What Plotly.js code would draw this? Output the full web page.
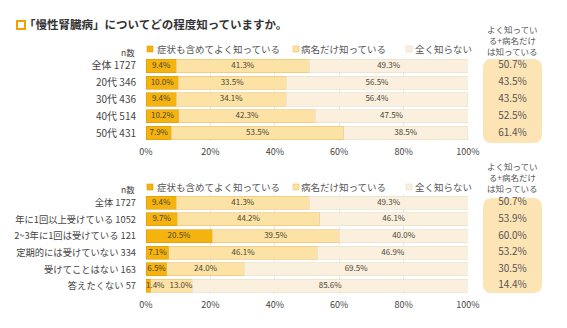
<!DOCTYPE html>
<html><head><meta charset="utf-8">
<script src="https://cdn.plot.ly/plotly-3.0.1.min.js"></script>
<style>html,body{margin:0;padding:0;background:#fff}#c{width:567px;height:328px}</style>
</head><body><div id="c"></div>
<script>
// ---- data ----
const seriesNames = ["症状も含めてよく知っている", "病名だけ知っている", "全く知らない"];
const sumHeader = "よく知ってい<br>る+病名だけ<br>は知っている";

const topGroups = ["全体", "20代", "30代", "40代", "50代"];
const topN = [1727, 346, 436, 514, 431];
const topKnowWell = [9.4, 10.0, 9.4, 10.2, 7.9];
const topNameOnly = [41.3, 33.5, 34.1, 42.3, 53.5];
const topUnknown = [49.3, 56.5, 56.4, 47.5, 38.5];
const topSum = [50.7, 43.5, 43.5, 52.5, 61.4];

const botGroups = ["全体", "年に1回以上受けている", "2~3年に1回は受けている", "定期的には受けていない", "受けてことはない", "答えたくない"];
const botN = [1727, 1052, 121, 334, 163, 57];
const botKnowWell = [9.4, 9.7, 20.5, 7.1, 6.5, 1.4];
const botNameOnly = [41.3, 44.2, 39.5, 46.1, 24.0, 13.0];
const botUnknown = [49.3, 46.1, 40.0, 46.9, 69.5, 85.6];
const botSum = [50.7, 53.9, 60.0, 53.2, 30.5, 14.4];

const xTicks = [0, 20, 40, 60, 80, 100];

// ---- styling ----
const colors = ["#F5B30F", "#FCE2A4", "#FBF0DE"];
const lineColors = ["#E09A00", "#E9C26A", "#E6DCC8"];
const txtColor = "#4a4636";
const FONT = "Noto Sans CJK JP, sans-serif";
const W = 567, H = 328;
const px = v => v / W, py = v => (H - v) / H;

function cats(groups, n) { return groups.map((g, i) => g + " " + n[i]); }
const topCats = cats(topGroups, topN);
const botCats = cats(botGroups, botN);

function barTraces(yc, vals, xa, ya) {
  const out = [];
  const start = yc.map(() => 0);
  let prevNarrow = yc.map(() => false);
  vals.forEach((v, k) => {
    out.push({
      type: "bar", orientation: "h", x: v, y: yc, xaxis: xa, yaxis: ya,
      name: seriesNames[k], showlegend: false,
      marker: { color: colors[k], line: { color: lineColors[k], width: 0.6 } },
      hoverinfo: "x+y+name"
    });
    // narrow segments: label starts at the segment's left edge;
    // the following label is then set against its segment's right end
    const narrow = v.map(d => d < 4);
    const xs = v.map((d, i) => narrow[i] ? start[i] : (prevNarrow[i] ? start[i] + d : start[i] + d / 2));
    const pos = v.map((d, i) => narrow[i] ? "middle right" : (prevNarrow[i] ? "middle left" : "middle center"));
    out.push({
      type: "scatter", mode: "text", x: xs, y: yc, xaxis: xa, yaxis: ya,
      text: v.map(d => d.toFixed(1) + "%"), textposition: pos,
      textfont: { size: 8, color: txtColor, family: FONT }, showlegend: false, hoverinfo: "skip",
      cliponaxis: false
    });
    v.forEach((d, i) => { start[i] += d; });
    prevNarrow = narrow;
  });
  return out;
}
function sumTrace(yc, s, xa, ya) {
  return {
    type: "scatter", mode: "text", x: yc.map(() => 0.5), y: yc, xaxis: xa, yaxis: ya,
    text: s.map(d => d.toFixed(1) + "%"), textposition: "middle center",
    textfont: { size: 10, color: "#555", family: FONT }, showlegend: false, hoverinfo: "skip"
  };
}

const data = [
  ...barTraces(topCats, [topKnowWell, topNameOnly, topUnknown], "x", "y"),
  ...barTraces(botCats, [botKnowWell, botNameOnly, botUnknown], "x2", "y2"),
  sumTrace(topCats, topSum, "x3", "y"),
  sumTrace(botCats, botSum, "x4", "y2")
];

const xCommon = {
  range: [0, 100], tickvals: xTicks, ticktext: xTicks.map(t => t + "%"),
  showgrid: true, gridcolor: "#e8e8e8", gridwidth: 1, zeroline: false, showline: false,
  ticks: "", tickfont: { size: 9, color: "#444", family: FONT }, fixedrange: true,
  domain: [px(146), px(468)], ticklabelstandoff: 4
};
const yCommon = {
  type: "category", autorange: "reversed", showgrid: false, zeroline: false, showline: false,
  ticks: "", ticklabelstandoff: 9
};
const boxX = { domain: [px(483), px(542)], range: [0, 1], visible: false, fixedrange: true };

function roundRect(x0, y0, x1, y1, r) {
  const rx = r / W, ry = r / H;
  return `M ${x0 + rx} ${y0} L ${x1 - rx} ${y0} Q ${x1} ${y0} ${x1} ${y0 + ry} L ${x1} ${y1 - ry} Q ${x1} ${y1} ${x1 - rx} ${y1} L ${x0 + rx} ${y1} Q ${x0} ${y1} ${x0} ${y1 - ry} L ${x0} ${y0 + ry} Q ${x0} ${y0} ${x0 + rx} ${y0} Z`;
}

const legendX = [[147, 155], [293, 299], [406, 413]];
function legendItems(yPix) {
  const shapes = [], anns = [];
  legendX.forEach((p, k) => {
    shapes.push({ type: "rect", xref: "paper", yref: "paper",
      x0: px(p[0]), x1: px(p[0] + 6), y0: py(yPix + 3), y1: py(yPix - 3),
      fillcolor: colors[k], line: { color: lineColors[k], width: 0.6 } });
    anns.push({ xref: "paper", yref: "paper", x: px(p[1]), y: py(yPix), xanchor: "left", yanchor: "middle",
      text: seriesNames[k], showarrow: false, font: { size: 9.5, color: "#555", family: FONT } });
  });
  return { shapes, anns };
}
const lg1 = legendItems(49), lg2 = legendItems(187);

const layout = {
  width: W, height: H, margin: { l: 0, r: 0, t: 0, b: 0 },
  paper_bgcolor: "#fff", plot_bgcolor: "rgba(0,0,0,0)",
  barmode: "stack", bargap: 0.22, showlegend: false,
  font: { family: FONT },
  title: {
    text: "「慢性腎臓病」についてどの程度知っていますか。",
    xref: "paper", yref: "paper", x: px(24), y: py(25), xanchor: "left", yanchor: "middle",
    font: { size: 11.5, color: "#333", family: FONT, weight: "bold" }
  },
  xaxis: Object.assign({}, xCommon, { anchor: "y" }),
  yaxis: Object.assign({}, yCommon, { anchor: "x", domain: [py(141.4), py(57.6)],
    tickfont: { size: 10, color: "#444", family: FONT } }),
  xaxis2: Object.assign({}, xCommon, { anchor: "y2" }),
  yaxis2: Object.assign({}, yCommon, { anchor: "x2", domain: [py(294.3), py(194.4)],
    tickfont: { size: 9.3, color: "#444", family: FONT } }),
  xaxis3: Object.assign({}, boxX, { anchor: "y" }),
  xaxis4: Object.assign({}, boxX, { anchor: "y2" }),
  shapes: [
    { type: "rect", xref: "paper", yref: "paper", x0: px(17), x1: px(25), y0: py(29), y1: py(21),
      fillcolor: "#fff", line: { color: "#F0A000", width: 2 } },
    { type: "path", xref: "paper", yref: "paper", path: roundRect(px(483), py(143), px(542), py(59), 9),
      fillcolor: "#FDE4B4", line: { width: 0 }, layer: "below" },
    { type: "path", xref: "paper", yref: "paper", path: roundRect(px(483), py(293), px(542), py(198), 9),
      fillcolor: "#FDE4B4", line: { width: 0 }, layer: "below" },
    ...lg1.shapes, ...lg2.shapes
  ],
  annotations: [
    { xref: "paper", yref: "paper", x: px(512), y: py(40), text: sumHeader, showarrow: false,
      xanchor: "center", yanchor: "middle", align: "center", font: { size: 8.5, color: "#555", family: FONT } },
    { xref: "paper", yref: "paper", x: px(512), y: py(177), text: sumHeader, showarrow: false,
      xanchor: "center", yanchor: "middle", align: "center", font: { size: 8.5, color: "#555", family: FONT } },
    { xref: "paper", yref: "paper", x: px(128), y: py(52), text: "n数", showarrow: false,
      xanchor: "center", yanchor: "middle", font: { size: 8.5, color: "#444", family: FONT } },
    { xref: "paper", yref: "paper", x: px(128), y: py(189), text: "n数", showarrow: false,
      xanchor: "center", yanchor: "middle", font: { size: 8.5, color: "#444", family: FONT } },
    ...lg1.anns, ...lg2.anns
  ]
};

Plotly.newPlot("c", data, layout, { displayModeBar: false, staticPlot: true });
</script></body></html>
